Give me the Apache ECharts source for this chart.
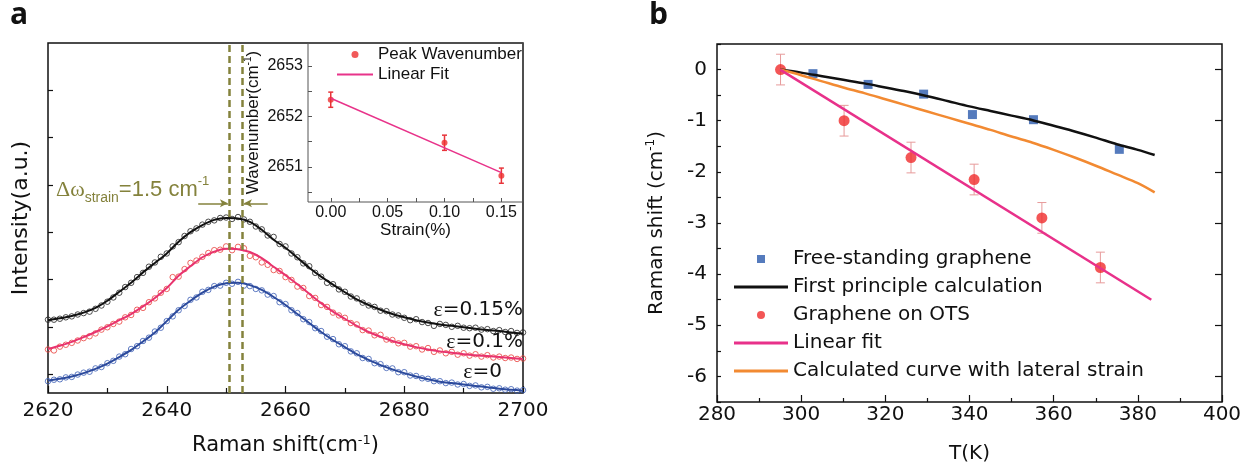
<!DOCTYPE html>
<html>
<head>
<meta charset="utf-8">
<script src="https://cdn.jsdelivr.net/npm/echarts@6/dist/echarts.min.js"></script>
<style>
html, body { margin: 0; padding: 0; background: #fff; }
#chart { width: 1254px; height: 472px; }
</style>
</head>
<body>
<div id="chart"></div>
<script>
// ---- panel a: 2D Raman peaks (fitted curves + measured points) ----
const fitX = [2620, 2622, 2624, 2626, 2628, 2630, 2632, 2634, 2636, 2638, 2640, 2642, 2644, 2646, 2648, 2650, 2652, 2654, 2656, 2658,
  2660, 2662, 2664, 2666, 2668, 2670, 2672, 2674, 2676, 2678, 2680, 2682, 2684, 2686, 2688, 2690, 2692, 2694, 2696, 2698, 2700]
const fitBlack = [1.14, 1.18, 1.23, 1.30, 1.40, 1.55, 1.74, 1.93, 2.15, 2.35, 2.55, 2.80, 3.00, 3.15, 3.26, 3.30, 3.29, 3.22, 3.05, 2.84,
  2.67, 2.46, 2.25, 2.06, 1.89, 1.73, 1.58, 1.46, 1.36, 1.27, 1.20, 1.14, 1.09, 1.05, 1.02, 0.99, 0.96, 0.93, 0.91, 0.88, 0.86]
const fitRed = [0.53, 0.60, 0.68, 0.78, 0.89, 1.01, 1.14, 1.27, 1.43, 1.61, 1.82, 2.08, 2.28, 2.47, 2.59, 2.65, 2.64, 2.58, 2.45, 2.27,
  2.09, 1.90, 1.70, 1.50, 1.32, 1.17, 1.02, 0.89, 0.79, 0.70, 0.63, 0.57, 0.52, 0.48, 0.45, 0.42, 0.40, 0.38, 0.36, 0.34, 0.32]
const fitBlue = [-0.14, -0.10, -0.05, 0.02, 0.11, 0.22, 0.36, 0.51, 0.69, 0.88, 1.12, 1.36, 1.55, 1.72, 1.85, 1.92, 1.93, 1.88, 1.78, 1.63,
  1.46, 1.27, 1.08, 0.89, 0.72, 0.57, 0.42, 0.30, 0.19, 0.10, 0.02, -0.05, -0.11, -0.16, -0.19, -0.22, -0.25, -0.28, -0.31, -0.33, -0.35]

const dotX = [2620, 2621, 2622, 2623, 2624, 2625, 2626, 2627, 2628, 2629,
  2630, 2631, 2632, 2633, 2634, 2635, 2636, 2637, 2638, 2639,
  2640, 2641, 2642, 2643, 2644, 2645, 2646, 2647, 2648, 2649,
  2650, 2651, 2652, 2653, 2654, 2655, 2656, 2657, 2658, 2659,
  2660, 2661, 2662, 2663, 2664, 2665, 2666, 2667, 2668, 2669,
  2670, 2671, 2672, 2673, 2674, 2675, 2676, 2677, 2678, 2679,
  2680, 2681, 2682, 2683, 2684, 2685, 2686, 2687, 2688, 2689,
  2690, 2691, 2692, 2693, 2694, 2695, 2696, 2697, 2698, 2699, 2700]
const dotBlack = [1.15, 1.15, 1.17, 1.20, 1.22, 1.26, 1.29, 1.32, 1.38, 1.45,
  1.53, 1.62, 1.72, 1.84, 1.93, 2.05, 2.14, 2.27, 2.36, 2.48,
  2.55, 2.70, 2.79, 2.92, 3.02, 3.08, 3.16, 3.22, 3.25, 3.30,
  3.31, 3.28, 3.32, 3.27, 3.22, 3.12, 3.06, 2.93, 2.90, 2.75,
  2.70, 2.55, 2.47, 2.34, 2.28, 2.14, 2.06, 1.93, 1.90, 1.79,
  1.74, 1.64, 1.60, 1.51, 1.45, 1.42, 1.34, 1.33, 1.26, 1.24,
  1.19, 1.14, 1.16, 1.10, 1.08, 1.02, 1.06, 1.04, 1.00, 1.02,
  0.98, 0.97, 0.98, 0.94, 0.95, 0.91, 0.93, 0.89, 0.91, 0.87, 0.88]
const dotRed = [0.52, 0.50, 0.58, 0.62, 0.66, 0.71, 0.76, 0.80, 0.86, 0.94,
  0.99, 1.06, 1.11, 1.20, 1.25, 1.36, 1.40, 1.52, 1.60, 1.72,
  1.80, 2.05, 2.06, 2.22, 2.35, 2.40, 2.48, 2.56, 2.62, 2.63,
  2.70, 2.62, 2.69, 2.66, 2.50, 2.47, 2.36, 2.31, 2.20, 2.18,
  2.05, 1.99, 1.85, 1.82, 1.65, 1.61, 1.46, 1.42, 1.30, 1.24,
  1.19, 1.08, 1.05, 0.93, 0.92, 0.82, 0.83, 0.73, 0.72, 0.65,
  0.66, 0.58, 0.59, 0.52, 0.55, 0.47, 0.50, 0.44, 0.47, 0.41,
  0.44, 0.39, 0.42, 0.37, 0.40, 0.35, 0.37, 0.34, 0.35, 0.32, 0.33]
const dotBlue = [-0.15, -0.12, -0.11, -0.07, -0.06, -0.01, 0.03, 0.05, 0.12, 0.15,
  0.23, 0.28, 0.37, 0.42, 0.53, 0.59, 0.70, 0.77, 0.90, 0.98,
  1.12, 1.22, 1.35, 1.44, 1.57, 1.62, 1.74, 1.78, 1.86, 1.87,
  1.93, 1.91, 1.95, 1.87, 1.86, 1.80, 1.77, 1.68, 1.65, 1.52,
  1.48, 1.35, 1.29, 1.16, 1.10, 0.97, 0.91, 0.79, 0.74, 0.63,
  0.59, 0.48, 0.44, 0.34, 0.32, 0.23, 0.21, 0.13, 0.12, 0.04,
  0.04, -0.03, -0.04, -0.09, -0.10, -0.15, -0.15, -0.19, -0.18, -0.22,
  -0.21, -0.25, -0.24, -0.28, -0.27, -0.31, -0.30, -0.33, -0.32, -0.35, -0.34]

// dashed peak positions and the two arrows between them
const peakLines = [2650.6, 2652.7]
const arrowY = 3.61
const arrowFrom = [2645.3, 2657.0]
const arrowTo = [2650.3, 2653.0]

// inset: peak wavenumber vs strain
const strain = [0.00, 0.10, 0.15]
const peakWave = [2652.33, 2651.48, 2650.83]
const peakErr = [0.15, 0.15, 0.15]
const strainFitX = [0.00, 0.15]
const strainFitY = [2652.36, 2650.89]

// ---- panel b: Raman shift vs temperature ----
const tempFree = [302.8, 315.9, 329.1, 340.7, 355.2, 375.6]
const shiftFree = [-0.08, -0.29, -0.48, -0.88, -0.98, -1.56]
const calcT = [295, 300, 305, 310, 315, 320, 325, 330, 335, 340, 345, 350, 355, 360, 365, 370, 375, 380, 384]
const calcFirst = [0, -0.06, -0.13, -0.20, -0.27, -0.35, -0.43, -0.52, -0.62, -0.72, -0.81, -0.90, -0.99, -1.10, -1.21, -1.33, -1.46, -1.57, -1.67]
const calcLateral = [0, -0.11, -0.23, -0.35, -0.46, -0.58, -0.70, -0.82, -0.94, -1.06, -1.18, -1.31, -1.43, -1.57, -1.72, -1.88, -2.05, -2.22, -2.40]
const tempOts = [295.1, 310.2, 326.1, 341.1, 357.2, 371.1]
const shiftOts = [0, -1.00, -1.72, -2.15, -2.90, -3.87]
const otsErr = [0.30, 0.30, 0.30, 0.30, 0.30, 0.30]
const linFitT = [295, 383.2]
const linFitY = [0, -4.50]

const FONT = '"DejaVu Sans", sans-serif'
const INSET_FONT = '"Liberation Sans", Arial, sans-serif'
const OLIVE = '#84823c'

const zip = (xs, ys) => xs.map((x, i) => [x, ys[i]])

function errorBars(xs, ys, errs, xi, yi, color, cap, width) {
  return {
    type: 'custom',
    xAxisIndex: xi,
    yAxisIndex: yi,
    silent: true,
    z: 1,
    encode: { x: 0, y: [1, 2] },
    data: xs.map((x, i) => [x, ys[i] - errs[i], ys[i] + errs[i]]),
    renderItem: (params, api) => {
      const lo = api.coord([api.value(0), api.value(1)])
      const hi = api.coord([api.value(0), api.value(2)])
      const s = { stroke: color, lineWidth: width }
      return {
        type: 'group',
        children: [
          { type: 'line', shape: { x1: lo[0], y1: lo[1], x2: hi[0], y2: hi[1] }, style: s },
          { type: 'line', shape: { x1: lo[0] - cap, y1: lo[1], x2: lo[0] + cap, y2: lo[1] }, style: s },
          { type: 'line', shape: { x1: hi[0] - cap, y1: hi[1], x2: hi[0] + cap, y2: hi[1] }, style: s }
        ]
      }
    }
  }
}

const supStyle = (size, family) => ({ fontSize: size, lineHeight: size + 2, verticalAlign: 'top', fontFamily: family, color: '#111' })
const noLine = { show: false, onZero: false }
const epsRich = {
  e: { fontSize: 22, fontFamily: '"Liberation Serif", serif', fill: '#111' },
  n: { fontSize: 20, fontFamily: FONT, fill: '#111' }
}
// legend icons: a small square and flat bars standing in for line samples
const SQUARE = 'path://M0,0L10,0L10,10L0,10Z'
const BAR_B = 'path://M0,0L54,0L54,3L0,3Z'
const BAR_INSET = 'path://M0,0L36,0L36,2L0,2Z'

const option = {
  animation: false,
  backgroundColor: '#fff',
  textStyle: { fontFamily: FONT, color: '#111' },
  grid: [
    { left: 48, top: 43, width: 475, height: 350, show: true, borderColor: '#111', borderWidth: 1.5 },
    { left: 308, top: 43, width: 215, height: 159, show: true, borderColor: '#555', borderWidth: 1 },
    { left: 717, top: 44, width: 505, height: 358, show: true, borderColor: '#111', borderWidth: 1.5 }
  ],
  xAxis: [
    {
      gridIndex: 0, type: 'value', min: 2620, max: 2700, interval: 20,
      axisLine: noLine,
      axisTick: { inside: true, length: 7, lineStyle: { color: '#111', width: 1.2 } },
      minorTick: { show: true, splitNumber: 2, length: 5, lineStyle: { color: '#111', width: 1.2 } },
      splitLine: { show: false },
      axisLabel: { fontSize: 20, margin: 8, color: '#111', fontFamily: FONT, formatter: v => String(v) },
      name: 'Raman shift(cm{sup|-1})', nameLocation: 'middle', nameGap: 41,
      nameTextStyle: { fontSize: 21, lineHeight: 24, color: '#111', fontFamily: FONT, rich: { sup: supStyle(13, FONT) } }
    },
    {
      gridIndex: 1, type: 'value', min: -0.02, max: 0.169,
      axisLine: noLine,
      axisTick: { inside: true, length: 4, customValues: [0, 0.025, 0.05, 0.075, 0.1, 0.125, 0.15], lineStyle: { color: '#555' } },
      splitLine: { show: false },
      axisLabel: { fontSize: 16, margin: 3, color: '#111', fontFamily: INSET_FONT, customValues: [0, 0.05, 0.1, 0.15], formatter: v => v.toFixed(2) },
      name: 'Strain(%)', nameLocation: 'middle', nameGap: 18,
      nameTextStyle: { fontSize: 17, color: '#111', fontFamily: INSET_FONT }
    },
    {
      gridIndex: 2, type: 'value', min: 280, max: 400, interval: 20,
      axisLine: noLine,
      axisTick: { inside: true, length: 7, lineStyle: { color: '#111', width: 1.2 } },
      minorTick: { show: true, splitNumber: 2, length: 4, lineStyle: { color: '#111', width: 1.2 } },
      splitLine: { show: false },
      axisLabel: { fontSize: 20, margin: 3, color: '#111', fontFamily: FONT },
      name: 'T(K)', nameLocation: 'middle', nameGap: 42,
      nameTextStyle: { fontSize: 20, color: '#111', fontFamily: FONT }
    }
  ],
  yAxis: [
    {
      gridIndex: 0, type: 'value', min: -0.4, max: 7,
      axisLine: noLine,
      axisTick: { inside: true, length: 5, customValues: [0, 1, 2, 3, 4, 5, 6], lineStyle: { color: '#111', width: 1.2 } },
      splitLine: { show: false },
      axisLabel: { show: false },
      name: 'Intensity(a.u.)', nameLocation: 'middle', nameGap: 16,
      nameTextStyle: { fontSize: 22, color: '#111', fontFamily: FONT }
    },
    {
      gridIndex: 1, type: 'value', min: 2650.31, max: 2653.45,
      axisLine: noLine,
      axisTick: { inside: true, length: 4, customValues: [2650.5, 2651, 2651.5, 2652, 2652.5, 2653], lineStyle: { color: '#555' } },
      splitLine: { show: false },
      axisLabel: { fontSize: 16, margin: 5, color: '#111', fontFamily: INSET_FONT, customValues: [2651, 2652, 2653], formatter: v => String(v) },
      name: 'Wavenumber(cm{sup|-1})', nameLocation: 'middle', nameGap: 40,
      nameTextStyle: { fontSize: 17, lineHeight: 20, color: '#111', fontFamily: INSET_FONT, rich: { sup: supStyle(10, INSET_FONT) } }
    },
    {
      gridIndex: 2, type: 'value', min: -6.5, max: 0.5, interval: 0.5,
      axisLine: noLine,
      axisTick: { inside: true, length: 4, lineStyle: { color: '#111', width: 1.2 } },
      splitLine: { show: false },
      axisLabel: { fontSize: 20, margin: 10, color: '#111', fontFamily: FONT, customValues: [-6, -5, -4, -3, -2, -1, 0] },
      name: 'Raman shift (cm{sup|-1})', nameLocation: 'middle', nameGap: 48,
      nameTextStyle: { fontSize: 20, lineHeight: 24, color: '#111', fontFamily: FONT, rich: { sup: supStyle(12, FONT) } }
    },
    {
      gridIndex: 2, type: 'value', min: -6.5, max: 0.5,
      axisLine: noLine,
      axisTick: { inside: true, length: 7, customValues: [-6, -5, -4, -3, -2, -1, 0], lineStyle: { color: '#111', width: 1.2 } },
      splitLine: { show: false },
      axisLabel: { show: false }
    }
  ],
  legend: [
    {
      orient: 'vertical', left: 332, top: 41, itemWidth: 36, itemHeight: 7, itemGap: 3,
      selectedMode: false,
      textStyle: { fontSize: 17, color: '#111', fontFamily: INSET_FONT },
      data: [{ name: 'Peak Wavenumber', icon: 'circle' }, { name: 'Linear Fit', icon: BAR_INSET }]
    },
    {
      orient: 'vertical', left: 729, top: 244, itemWidth: 54, itemHeight: 8, itemGap: 8,
      selectedMode: false,
      textStyle: { fontSize: 20, color: '#111', fontFamily: FONT },
      data: [
        { name: 'Free-standing graphene', icon: SQUARE },
        { name: 'First principle calculation', icon: BAR_B },
        { name: 'Graphene on OTS', icon: 'circle' },
        { name: 'Linear fit', icon: BAR_B },
        { name: 'Calculated curve with lateral strain', icon: BAR_B }
      ]
    }
  ],
  graphic: [
    { type: 'text', left: 10, top: 0, style: { text: 'a', font: 'bold 30px "Open Sans", sans-serif', fill: '#111' } },
    { type: 'text', left: 649, top: 0, style: { text: 'b', font: 'bold 30px "Open Sans", sans-serif', fill: '#111' } },
    {
      type: 'text', left: 56, top: 175,
      style: {
        text: '{g|Δω}{sub|strain}{n|=1.5 cm}{sup|-1}',
        rich: {
          g: { fontSize: 22, lineHeight: 30, fontFamily: '"Liberation Serif", serif', fill: OLIVE, verticalAlign: 'middle' },
          sub: { fontSize: 14, lineHeight: 14, fontFamily: INSET_FONT, fill: OLIVE, verticalAlign: 'bottom' },
          n: { fontSize: 22, lineHeight: 30, fontFamily: INSET_FONT, fill: OLIVE, verticalAlign: 'middle' },
          sup: { fontSize: 13, lineHeight: 18, fontFamily: INSET_FONT, fill: OLIVE, verticalAlign: 'top' }
        }
      }
    },
    { type: 'text', right: 731, top: 299, style: { text: '{e|ε}{n|=0.15%}', rich: epsRich } },
    { type: 'text', right: 731, top: 331, style: { text: '{e|ε}{n|=0.1%}', rich: epsRich } },
    { type: 'text', right: 752, top: 361, style: { text: '{e|ε}{n|=0}', rich: epsRich } }
  ],
  series: [
    // panel a
    { type: 'scatter', xAxisIndex: 0, yAxisIndex: 0, data: zip(dotX, dotBlack), symbol: 'circle', symbolSize: 5.5,
      itemStyle: { color: 'rgba(0,0,0,0)', borderColor: '#222', borderWidth: 1 }, silent: true },
    { type: 'scatter', xAxisIndex: 0, yAxisIndex: 0, data: zip(dotX, dotRed), symbol: 'circle', symbolSize: 5.5,
      itemStyle: { color: 'rgba(0,0,0,0)', borderColor: '#e8403c', borderWidth: 1 }, silent: true },
    { type: 'scatter', xAxisIndex: 0, yAxisIndex: 0, data: zip(dotX, dotBlue), symbol: 'circle', symbolSize: 5.5,
      itemStyle: { color: 'rgba(0,0,0,0)', borderColor: '#3a5cb4', borderWidth: 1 }, silent: true },
    { type: 'line', xAxisIndex: 0, yAxisIndex: 0, data: zip(fitX, fitBlack), symbol: 'none', smooth: 0.3,
      lineStyle: { color: '#111', width: 2 } },
    { type: 'line', xAxisIndex: 0, yAxisIndex: 0, data: zip(fitX, fitRed), symbol: 'none', smooth: 0.3,
      lineStyle: { color: '#e8336e', width: 2 } },
    { type: 'line', xAxisIndex: 0, yAxisIndex: 0, data: zip(fitX, fitBlue), symbol: 'none', smooth: 0.3,
      lineStyle: { color: '#2c4a9c', width: 2 } },
    {
      type: 'line', xAxisIndex: 0, yAxisIndex: 0, data: [], z: 5,
      markLine: {
        silent: true, symbol: 'none', label: { show: false },
        lineStyle: { color: OLIVE, width: 2.5, type: [7, 4] },
        data: peakLines.map(v => ({ xAxis: v }))
      }
    },
    {
      type: 'line', xAxisIndex: 0, yAxisIndex: 0, data: [], z: 5,
      markLine: {
        silent: true, symbol: ['none', 'arrow'], symbolSize: [6, 8], label: { show: false },
        lineStyle: { color: OLIVE, width: 1.5, type: 'solid' },
        data: arrowFrom.map((v, i) => [{ coord: [v, arrowY] }, { coord: [arrowTo[i], arrowY] }])
      }
    },
    // inset
    errorBars(strain, peakWave, peakErr, 1, 1, '#e8343a', 2.5, 1.5),
    { name: 'Linear Fit', type: 'line', xAxisIndex: 1, yAxisIndex: 1, data: zip(strainFitX, strainFitY), symbol: 'none',
      lineStyle: { color: '#e8338a', width: 1.5 }, itemStyle: { color: '#e8338a' } },
    { name: 'Peak Wavenumber', type: 'scatter', xAxisIndex: 1, yAxisIndex: 1, data: zip(strain, peakWave), symbol: 'circle', symbolSize: 6,
      itemStyle: { color: '#ee3030' } },
    // panel b
    errorBars(tempOts, shiftOts, otsErr, 2, 2, '#e79a9a', 4.5, 1),
    { name: 'First principle calculation', type: 'line', xAxisIndex: 2, yAxisIndex: 2, data: zip(calcT, calcFirst), symbol: 'none', smooth: 0.3,
      lineStyle: { color: '#111', width: 2.5 }, itemStyle: { color: '#111' } },
    { name: 'Calculated curve with lateral strain', type: 'line', xAxisIndex: 2, yAxisIndex: 2, data: zip(calcT, calcLateral), symbol: 'none', smooth: 0.3,
      lineStyle: { color: '#f28a32', width: 2.5 }, itemStyle: { color: '#f28a32' } },
    { name: 'Linear fit', type: 'line', xAxisIndex: 2, yAxisIndex: 2, data: zip(linFitT, linFitY), symbol: 'none',
      lineStyle: { color: '#e8318a', width: 2.5 }, itemStyle: { color: '#e8318a' } },
    { name: 'Free-standing graphene', type: 'scatter', xAxisIndex: 2, yAxisIndex: 2, data: zip(tempFree, shiftFree), symbol: 'rect', symbolSize: 9,
      itemStyle: { color: '#2a5aad' } },
    { name: 'Graphene on OTS', type: 'scatter', xAxisIndex: 2, yAxisIndex: 2, data: zip(tempOts, shiftOts), symbol: 'circle', symbolSize: 11,
      itemStyle: { color: '#f02c2c' } }
  ]
}

const chart = echarts.init(document.getElementById('chart'))
chart.setOption(option)
</script>
</body>
</html>
